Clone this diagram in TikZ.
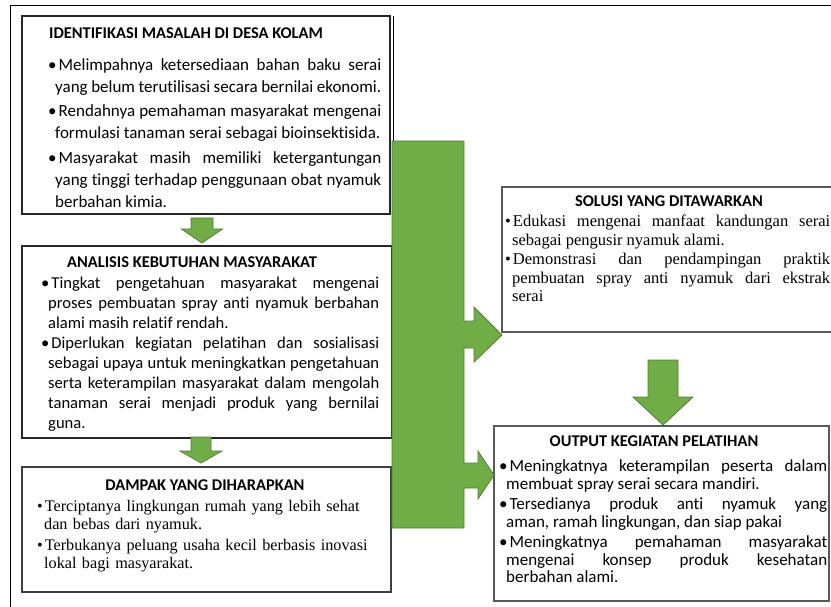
\documentclass[tikz,border=0pt]{standalone}
\usepackage{fontspec}
\setmainfont{Carlito}[Ligatures={NoCommon,NoDiscretionary}]
\newfontfamily\timesfont{Liberation Serif}
\usetikzlibrary{calc}
\hyphenpenalty=10000
\exhyphenpenalty=10000
\definecolor{hijau}{HTML}{70AD47}
\definecolor{hijaugelap}{HTML}{507E32}
\def\panahbawah(#1,#2)(#3:#4:#5:#6){\draw[panah] ({#1-#3},#2) -- ({#1+#3},#2) -- ({#1+#3},#4) -- ({#1+#5},#4) -- (#1,#6) -- ({#1-#5},#4) -- ({#1-#3},#4) -- cycle;}
\newenvironment{poin}[1][0pt]{\begin{list}{\textbullet}{\setlength{\leftmargin}{7pt}\setlength{\labelwidth}{5pt}\setlength{\labelsep}{2pt}\setlength{\itemsep}{#1}\setlength{\parsep}{0pt}\setlength{\topsep}{0pt}\setlength{\partopsep}{0pt}}}{\end{list}}
\tikzset{
	kotak/.style={draw=black!85, line width=1.1pt, inner sep=0pt},
	judul/.style={font=\bfseries\fontsize{16.4}{19}\selectfont, inner sep=0pt},
	isi/.style={anchor=north west, inner sep=0pt, align=justify, font=\fontsize{17}{22}\selectfont},
	panah/.style={fill=hijau, draw=hijaugelap, line width=0.8pt, line join=miter}
}

\begin{document}
\begin{tikzpicture}[x=1pt, y=-1pt]
		%%%%% START %%%%%
		
		\useasboundingbox (0,0) rectangle (831,607);
		\clip (0,0) rectangle (831,607);
		\draw[line width=1pt] (10,6) rectangle (845,620);
		
		% kotak kiri
		\node[kotak, minimum width=368, minimum height=198] (identifikasi) at (206,115) {};
		\draw[line width=0.7pt] (393,16) -- (393,246);
		\node[kotak, minimum width=370, minimum height=192] (analisis) at (207,342) {};
		\node[kotak, draw=black!75, minimum width=369, minimum height=125] (dampak) at (206.5,529.5) {};
		
		% kotak kanan
		\node[kotak, draw=black!65, minimum width=343, minimum height=145] (solusi) at (673.5,259.5) {};
		\node[kotak, draw=black!65, minimum width=335, minimum height=175] (output) at (661.5,513.5) {};
		
		% panah
		\panahbawah(202,218)(11:229:20.5:243)
		\panahbawah(201,437)(10:451:21:463)
		\panahbawah(663,360)(15:397:30:425)
		\draw[panah] (392,141) -- (464,141) -- (464,321) -- (474,321) -- (474,307) -- (502,335) -- (474,362) -- (474,348) -- (464,348) -- (464,463) -- (478,463) -- (478,451) -- (494,475) -- (478,499) -- (478,488) -- (464,488) -- (464,528) -- (392,528) -- cycle;
		
		% judul
		\node[judul, anchor=base west] (judulidentifikasi) at (49,39) {IDENTIFIKASI MASALAH DI DESA KOLAM};
		\node[judul, anchor=base west] (judulanalisis) at (67,267) {ANALISIS KEBUTUHAN MASYARAKAT};
		\node[judul, anchor=base] (juduldampak) at (205,490) {DAMPAK YANG DIHARAPKAN};
		\node[judul, anchor=base] (judulsolusi) at (669,207) {SOLUSI YANG DITAWARKAN};
		\node[judul, anchor=base] (juduloutput) at (654,446) {OUTPUT KEGIATAN PELATIHAN};
		
		% isi
		\node[isi, text width=333] (isiidentifikasi) at (48,48) {\begin{poin}[2.5pt]
			\item Melimpahnya ketersediaan bahan baku serai\linebreak yang belum terutilisasi secara bernilai ekonomi.
			\item Rendahnya pemahaman masyarakat mengenai\linebreak formulasi tanaman serai sebagai bioinsektisida.
			\item Masyarakat masih memiliki ketergantungan\linebreak yang tinggi terhadap penggunaan obat nyamuk\linebreak berbahan kimia.
		\end{poin}};
		\node[isi, text width=338, font=\fontsize{16.6}{20}\selectfont] (isianalisis) at (41,268) {\begin{poin}
			\item Tingkat pengetahuan masyarakat mengenai\linebreak proses pembuatan spray anti nyamuk berbahan\linebreak alami masih relatif rendah.
			\item Diperlukan kegiatan pelatihan dan sosialisasi\linebreak sebagai upaya untuk meningkatkan pengetahuan\linebreak serta keterampilan masyarakat dalam mengolah\linebreak tanaman serai menjadi produk yang bernilai\linebreak guna.
		\end{poin}};
		\node[isi, text width=336, align=left, font=\timesfont\fontsize{16.2}{18}\selectfont] (isidampak) at (37,493) {\begin{poin}[3.5pt]
			\item Terciptanya lingkungan rumah yang lebih sehat\\ dan bebas dari nyamuk.
			\item Terbukanya peluang usaha kecil berbasis inovasi\\ lokal bagi masyarakat.
		\end{poin}};
		\node[isi, text width=325, font=\timesfont\fontsize{16.5}{18.5}\selectfont] (isisolusi) at (505,208) {\begin{poin}[1pt]
			\item Edukasi mengenai manfaat kandungan serai\linebreak sebagai pengusir nyamuk alami.
			\item Demonstrasi dan pendampingan praktik\linebreak pembuatan spray anti nyamuk dari ekstrak\linebreak serai
		\end{poin}};
		\node[isi, text width=328, font=\fontsize{17}{17.5}\selectfont] (isioutput) at (499,454) {\begin{poin}[3pt]
			\item Meningkatnya keterampilan peserta dalam\linebreak membuat spray serai secara mandiri.
			\item Tersedianya produk anti nyamuk yang\linebreak aman, ramah lingkungan, dan siap pakai
			\item Meningkatnya pemahaman masyarakat\linebreak mengenai konsep produk kesehatan\linebreak berbahan alami.
		\end{poin}};
		
		%%%%% END %%%%%
	\end{tikzpicture}
\end{document}
